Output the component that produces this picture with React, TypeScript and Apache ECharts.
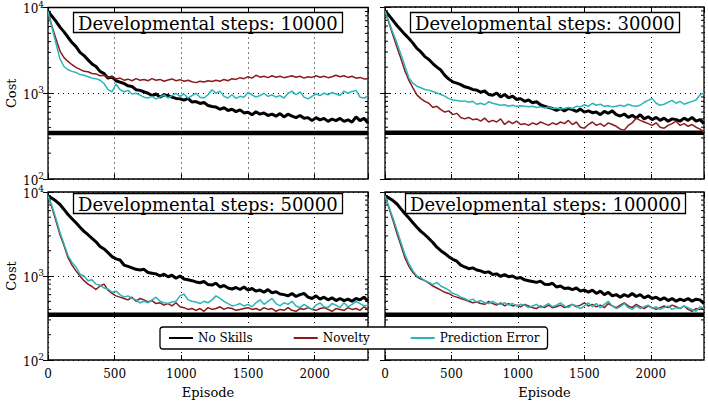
import React, { useEffect, useRef } from "react";
import * as echarts from "echarts";

// ---------- data ----------
const EPISODE_STEP = 30;
const X_MAX = 2400;
const episodes: number[] = Array.from({ length: X_MAX / EPISODE_STEP + 1 }, (_, i) => i * EPISODE_STEP);

const titles = [
  "Developmental steps: 10000",
  "Developmental steps: 30000",
  "Developmental steps: 50000",
  "Developmental steps: 100000",
];
const seriesNames = ["No Skills", "Novelty", "Prediction Error"];
const OPTIMAL_COST = 345;
const xTickInterval = 500;
const yMin = 100;
const yMax = 10000;
const minorTickValues = [200, 300, 400, 500, 600, 700, 800, 900, 2000, 3000, 4000, 5000, 6000, 7000, 8000, 9000];

// Developmental steps: 10000
const noSkills10000 = [
  9000, 7900, 6900, 5900, 5200, 4500, 3900, 3500, 3000, 2750,
  2450, 2200, 2050, 1800, 1700, 1500, 1550, 1400, 1350, 1300,
  1220, 1200, 1100, 1080, 1040, 1000, 940, 980, 900, 960,
  940, 900, 870, 860, 830, 870, 790, 800, 760, 780,
  720, 700, 690, 650, 680, 630, 650, 610, 640, 590,
  600, 560, 610, 570, 590, 550, 570, 540, 580, 530,
  570, 540, 520, 550, 510, 520, 480, 520, 490, 510,
  470, 500, 480, 510, 470, 490, 460, 530, 480, 510,
  450,
];
const novelty10000 = [
  9000, 6000, 4300, 3100, 2600, 2350, 2150, 2000, 1900, 1800,
  1780, 1700, 1680, 1600, 1620, 1520, 1560, 1480, 1500, 1420,
  1460, 1400, 1480, 1420, 1450, 1400, 1480, 1420, 1450, 1380,
  1430, 1470, 1400, 1440, 1380, 1420, 1360, 1330, 1380, 1350,
  1400, 1370, 1420, 1380, 1450, 1400, 1480, 1450, 1520, 1480,
  1560, 1500, 1620, 1540, 1580, 1520, 1600, 1540, 1580, 1520,
  1560, 1600, 1540, 1580, 1500, 1560, 1530, 1600, 1540, 1580,
  1520, 1560, 1620, 1560, 1600, 1530, 1580, 1500, 1530, 1470,
  1480,
];
const predError10000 = [
  9000, 5800, 3800, 2500, 2050, 1880, 1800, 1750, 1650, 1620,
  1560, 1500, 1480, 1420, 1300, 1100, 1040, 1280, 1100, 1040,
  1080, 980, 1000, 950, 900, 880, 920, 860, 900, 960,
  880, 940, 1000, 920, 980, 880, 940, 1000, 900, 880,
  960, 1100, 1000, 1060, 920, 880, 960, 870, 920, 900,
  1020, 960, 900, 940, 1000, 920, 960, 900, 940, 880,
  1000, 1060, 960, 1040, 900, 860, 920, 980, 940, 1000,
  960, 1020, 980, 940, 1060, 1000, 1050, 1080, 900, 880,
  900,
];

// Developmental steps: 30000
const noSkills30000 = [
  9000, 8000, 7000, 6100, 5400, 4800, 4300, 3800, 3300, 3000,
  2650, 2450, 2200, 2000, 1850, 1600, 1450, 1350, 1300, 1250,
  1180, 1150, 1100, 1080, 1020, 1060, 960, 940, 1000, 900,
  960, 880, 920, 840, 860, 800, 830, 770, 790, 730,
  700, 680, 660, 630, 660, 620, 660, 640, 610, 650,
  600, 620, 590, 600, 560, 610, 580, 620, 560, 540,
  570, 520, 550, 510, 560, 500, 530, 490, 520, 480,
  510, 470, 500, 490, 470, 510, 480, 520, 470, 490,
  440,
];
const novelty30000 = [
  9000, 6500, 4700, 3400, 2500, 1800, 1400, 1150, 950, 860,
  800, 760, 680, 700, 640, 600, 620, 560, 580, 520,
  500, 520, 490, 500, 470, 510, 460, 480, 460, 500,
  430, 470, 440, 470, 430, 440, 420, 450, 430, 460,
  440, 420, 450, 430, 460, 440, 480, 430, 460, 400,
  390, 430, 460, 420, 440, 410, 450, 430, 410, 380,
  370, 420, 450, 510, 480, 460, 440, 420, 450, 400,
  390, 420, 440, 470, 420, 440, 410, 430, 400, 380,
  350,
];
const predError30000 = [
  9000, 6700, 5000, 3800, 2800, 2050, 1500, 1300, 1200, 1150,
  1100, 1080, 1040, 1000, 960, 920, 860, 830, 820, 800,
  810, 780, 800, 740, 760, 730, 790, 760, 740, 720,
  730, 700, 720, 700, 710, 700, 690, 700, 680, 690,
  670, 690, 660, 670, 650, 660, 680, 660, 700, 690,
  730, 700, 760, 720, 740, 700, 710, 690, 700, 720,
  700, 740, 710, 700, 720, 780, 820, 860, 760, 720,
  740, 780, 820, 760, 800, 740, 770, 800, 830, 950,
  1010,
];

// Developmental steps: 50000
const noSkills50000 = [
  9000, 8400, 7800, 7100, 6200, 5400, 4800, 4300, 3800, 3400,
  3100, 2800, 2550, 2250, 2100, 1900, 1700, 1600, 1550, 1350,
  1300, 1250, 1200, 1180, 1200, 1100, 1080, 1060, 1000, 1050,
  980, 1020, 940, 1000, 920, 900, 880, 850, 830, 860,
  790, 780, 820, 740, 770, 720, 700, 730, 690, 740,
  680, 710, 660, 680, 640, 690, 630, 650, 610, 600,
  580, 620, 570, 600, 620, 560, 540, 580, 530, 560,
  520, 550, 510, 540, 510, 530, 500, 540, 520, 560,
  500,
];
const novelty50000 = [
  9000, 6500, 4500, 3100, 2300, 1650, 1350, 1150, 1000, 880,
  800, 750, 690, 760, 800, 680, 620, 580, 560, 540,
  520, 560, 500, 540, 520, 490, 510, 470, 480, 450,
  470, 440, 480, 430, 420, 400, 410, 390, 410, 380,
  420, 400, 410, 430, 400, 420, 410, 390, 400, 410,
  420, 400, 410, 390, 420, 400, 410, 380, 400, 390,
  420, 390, 380, 410, 400, 420, 400, 390, 410, 420,
  400, 380, 410, 400, 390, 420, 400, 410, 390, 430,
  400,
];
const predError50000 = [
  9000, 6800, 4800, 3300, 2400, 1750, 1450, 1280, 1050, 1000,
  880, 900, 800, 780, 720, 700, 640, 660, 600, 560,
  580, 540, 520, 480, 500, 480, 520, 560, 500, 480,
  470, 490, 500, 580, 610, 520, 500, 490, 470, 500,
  480, 520, 580, 540, 500, 470, 440, 450, 470, 440,
  460, 430, 480, 520, 460, 500, 540, 470, 440, 480,
  460, 500, 440, 420, 460, 430, 400, 450, 480, 430,
  420, 470, 450, 420, 480, 430, 460, 500, 470, 440,
  450,
];

// Developmental steps: 100000
const noSkills100000 = [
  9000, 8500, 7900, 7200, 6300, 5500, 4900, 4300, 3800, 3400,
  3100, 2800, 2500, 2200, 2000, 1850, 1700, 1580, 1500, 1350,
  1280, 1220, 1250, 1180, 1150, 1100, 1120, 1040, 1060, 990,
  1040, 980, 1000, 940, 960, 900, 880, 860, 840, 870,
  800, 790, 820, 740, 760, 710, 720, 690, 720, 660,
  680, 640, 680, 620, 660, 600, 640, 580, 600, 560,
  600, 570, 620, 570, 600, 550, 580, 540, 560, 520,
  550, 510, 540, 500, 530, 510, 540, 500, 530, 520,
  470,
];
const novelty100000 = [
  9000, 6400, 4600, 3200, 2300, 1650, 1300, 1100, 980, 920,
  880, 820, 760, 720, 680, 640, 620, 580, 560, 540,
  520, 500, 480, 490, 470, 460, 500, 470, 450, 480,
  440, 470, 440, 450, 430, 460, 440, 420, 410, 440,
  420, 450, 420, 430, 450, 420, 440, 460, 430, 450,
  480, 440, 460, 430, 450, 420, 470, 440, 420, 450,
  480, 440, 420, 460, 430, 410, 440, 420, 400, 420,
  440, 420, 450, 430, 410, 440, 400, 380, 410, 400,
  420,
];
const predError100000 = [
  9000, 6600, 4900, 3500, 2500, 1800, 1400, 1150, 1000, 950,
  880, 840, 790, 840, 760, 720, 680, 620, 600, 560,
  540, 510, 530, 490, 510, 480, 470, 500, 470, 460,
  480, 450, 470, 440, 460, 450, 420, 440, 460, 420,
  440, 470, 430, 450, 480, 440, 420, 460, 440, 410,
  440, 480, 430, 470, 420, 460, 500, 440, 410, 430,
  470, 420, 400, 440, 410, 430, 450, 410, 430, 400,
  420, 440, 400, 420, 410, 440, 420, 400, 380, 430,
  410,
];

const panelData = [
  [noSkills10000, novelty10000, predError10000],
  [noSkills30000, novelty30000, predError30000],
  [noSkills50000, novelty50000, predError50000],
  [noSkills100000, novelty100000, predError100000],
];

// ---------- styling ----------
const FONT = "'DejaVu Serif', serif";
const COLORS = ["#000000", "#8b1a1a", "#2bb5b8"];
const WIDTHS = [3, 1.5, 1.5];
const gridRects = [
  { left: 48, top: 7, width: 320, height: 172 },
  { left: 385, top: 7, width: 319, height: 172 },
  { left: 48, top: 192, width: 320, height: 168 },
  { left: 385, top: 192, width: 319, height: 168 },
];
const titlePos = [
  { left: 73, top: 12 },
  { left: 410, top: 12 },
  { left: 73, top: 193 },
  { left: 405, top: 193 },
];

function buildOption(): any {
  const grid = gridRects.map((r) => ({
    ...r,
    show: true,
    borderColor: "#000",
    borderWidth: 1.3,
    backgroundColor: "transparent",
  }));

  const xAxis: any[] = [];
  const yAxis: any[] = [];
  const series: any[] = [];

  gridRects.forEach((_, i) => {
    const isBottom = i >= 2;
    const isLeft = i % 2 === 0;
    xAxis.push({
      type: "value",
      gridIndex: i,
      min: 0,
      max: X_MAX,
      interval: xTickInterval,
      position: "bottom",
      axisLine: { show: false },
      axisTick: { inside: true, length: 5, lineStyle: { color: "#000", width: 1 } },
      splitLine: { show: true, lineStyle: { color: "#000", type: [1, 4], width: 1 } },
      axisLabel: {
        show: isBottom,
        showMaxLabel: false,
        color: "#000",
        fontFamily: FONT,
        fontSize: 12,
        margin: 8,
        formatter: (v: number) => String(v),
      },
      name: isBottom ? "Episode" : "",
      nameLocation: "middle",
      nameGap: 26,
      nameTextStyle: { color: "#000", fontFamily: FONT, fontSize: 13 },
    });
    xAxis.push({
      type: "value",
      gridIndex: i,
      min: 0,
      max: X_MAX,
      interval: xTickInterval,
      position: "top",
      axisLine: { show: false },
      axisTick: { inside: true, length: 5, lineStyle: { color: "#000", width: 1 } },
      splitLine: { show: false },
      axisLabel: { show: false },
    });
    yAxis.push({
      type: "log",
      logBase: 10,
      gridIndex: i,
      min: yMin,
      max: yMax,
      position: "left",
      axisLine: { show: false },
      axisTick: { inside: true, length: 5, lineStyle: { color: "#000", width: 1 } },
      splitLine: { show: true, lineStyle: { color: "#000", type: [1, 4], width: 1 } },
      axisLabel: {
        show: isLeft,
        showMinLabel: true,
        showMaxLabel: true,
        margin: 4,
        formatter: (v: number) => `{b|10}{e|${Math.round(Math.log10(v))}}`,
        rich: {
          b: { fontFamily: FONT, fontSize: 12, color: "#000", verticalAlign: "bottom", lineHeight: 15 },
          e: { fontFamily: FONT, fontSize: 9, color: "#000", verticalAlign: "top", lineHeight: 10 },
        },
      },
      name: isLeft ? "Cost" : "",
      nameLocation: "middle",
      nameGap: 30,
      nameRotate: 90,
      nameTextStyle: { color: "#000", fontFamily: FONT, fontSize: 13 },
    });
    yAxis.push({
      type: "log",
      logBase: 10,
      gridIndex: i,
      min: yMin,
      max: yMax,
      position: "right",
      axisLine: { show: false },
      axisTick: { inside: true, length: 5, lineStyle: { color: "#000", width: 1 } },
      splitLine: { show: false },
      axisLabel: { show: false },
    });

    // minor log ticks (left and right edges)
    series.push({
      type: "custom",
      name: "minorTicks",
      xAxisIndex: 2 * i,
      yAxisIndex: 2 * i,
      silent: true,
      data: minorTickValues.map((v) => [0, v]),
      encode: { x: 0, y: 1 },
      renderItem: (_params: any, api: any) => {
        const v = api.value(1);
        const l = api.coord([0, v]);
        const r = api.coord([X_MAX, v]);
        return {
          type: "group",
          children: [
            { type: "line", shape: { x1: l[0], y1: l[1], x2: l[0] + 3, y2: l[1] }, style: { stroke: "#000", lineWidth: 1 } },
            { type: "line", shape: { x1: r[0] - 3, y1: r[1], x2: r[0], y2: r[1] }, style: { stroke: "#000", lineWidth: 1 } },
          ],
        };
      },
    });

    // optimal cost baseline
    series.push({
      type: "line",
      name: "Optimal",
      xAxisIndex: 2 * i,
      yAxisIndex: 2 * i,
      data: [
        [0, OPTIMAL_COST],
        [X_MAX, OPTIMAL_COST],
      ],
      symbol: "none",
      silent: true,
      lineStyle: { color: "#000", width: 4.5 },
    });

    panelData[i].forEach((vals, k) => {
      series.push({
        type: "line",
        name: seriesNames[k],
        xAxisIndex: 2 * i,
        yAxisIndex: 2 * i,
        data: episodes.map((e, j) => [e, vals[j]]),
        symbol: "none",
        showSymbol: false,
        clip: true,
        color: COLORS[k],
        lineStyle: { color: COLORS[k], width: WIDTHS[k] },
      });
    });
  });

  const title = titles.map((t, i) => ({
    text: t,
    left: titlePos[i].left,
    top: titlePos[i].top,
    padding: [2, 5, 1, 5],
    backgroundColor: "#fff",
    borderColor: "#000",
    borderWidth: 1.3,
    textStyle: { fontFamily: FONT, fontSize: 18, fontWeight: "normal", color: "#000" },
  }));

  return {
    animation: false,
    backgroundColor: "#fff",
    title,
    legend: {
      data: seriesNames,
      left: 160,
      top: 327,
      orient: "horizontal",
      itemWidth: 24,
      itemHeight: 10,
      itemGap: 40,
      padding: [5, 8, 5, 8],
      backgroundColor: "#fff",
      borderColor: "#000",
      borderWidth: 1.3,
      borderRadius: 3,
      itemStyle: { opacity: 0 },
      textStyle: { fontFamily: FONT, fontSize: 12, color: "#000" },
    },
    grid,
    xAxis,
    yAxis,
    series,
  };
}

export default function App() {
  const ref = useRef<HTMLDivElement>(null);
  useEffect(() => {
    if (!ref.current) return;
    const chart = echarts.init(ref.current, undefined, { renderer: "svg" });
    chart.setOption(buildOption());
    return () => chart.dispose();
  }, []);
  return (
    <div
      ref={ref}
      style={{ position: "absolute", left: 0, top: 0, width: 708, height: 401, background: "#fff" }}
    />
  );
}
